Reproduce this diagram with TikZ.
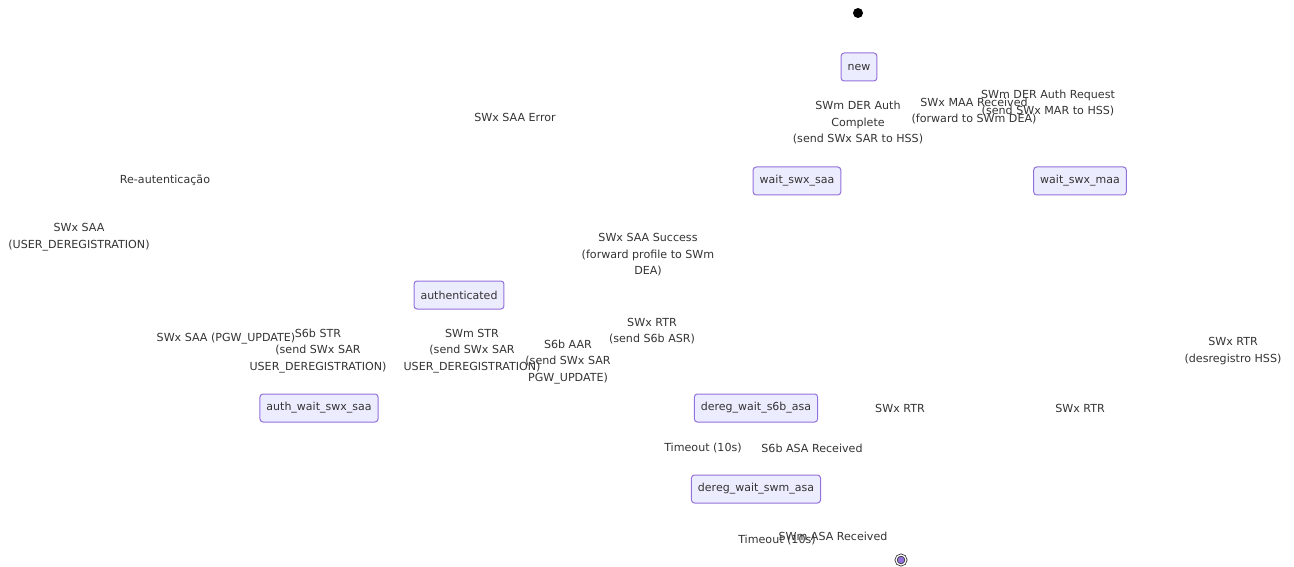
\documentclass[tikz,border=0pt]{standalone}
\usepackage{fontspec}
\setmainfont{DejaVu Sans}
\definecolor{stateFill}{HTML}{ECECFF}
\definecolor{stateLine}{HTML}{9370DB}
\definecolor{labelText}{HTML}{333333}
\begin{document}
\begin{tikzpicture}[x=1pt,y=-1pt]
	\tikzstyle{state_box} = [rectangle, rounded corners=3pt, draw=stateLine, line width=1pt, fill=stateFill, text=labelText, minimum height=28pt, inner xsep=6.5pt, font=\fontsize{11}{13}\selectfont]
	\tikzstyle{edge_label} = [align=center, text=labelText, inner sep=0pt, font=\fontsize{11.1}{16.5}\selectfont]
	\tikzstyle{start_dot} = [circle, fill=black, minimum size=10pt, inner sep=0pt]
	\tikzstyle{end_dot} = [circle, draw=labelText, line width=0.8pt, fill=stateLine, minimum size=10pt, inner sep=0pt, double=white, double distance=1.2pt]

	\useasboundingbox (0,0) rectangle (1294,567);

%------------------------------------------------------------
	\node[start_dot] (start) at (858,13) {};
	\node[state_box] (new) at (859,67) {new};

%------------------------------------------------------------

	\node[state_box] (wait_swx_saa) at (797,181) {wait\_swx\_saa};
	\node[state_box] (wait_swx_maa) at (1080,181) {wait\_swx\_maa};
	\node[state_box] (authenticated) at (459,295) {authenticated};

%------------------------------------------------------------

	\node[state_box] (auth_wait_swx_saa) at (319,408) {auth\_wait\_swx\_saa};
	\node[state_box] (dereg_wait_s6b_asa) at (756,408) {dereg\_wait\_s6b\_asa};
	\node[state_box] (dereg_wait_swm_asa) at (756,489) {dereg\_wait\_swm\_asa};
	\node[end_dot] (finish) at (901,560) {};

%------------------------------------------------------------

	\node[edge_label] (l_saa_error) at (515,117) {SWx SAA Error};
	\node[edge_label] (l_reauth) at (165,180) {Re-autenticação};
	\node[edge_label] (l_saa_dereg) at (79,237) {SWx SAA\\(USER\_DEREGISTRATION)};
	\node[edge_label] (l_der_complete) at (858,123) {SWm DER Auth\\Complete\\(send SWx SAR to HSS)};
	\node[edge_label] (l_maa) at (974,111) {SWx MAA Received\\(forward to SWm DEA)};
	\node[edge_label] (l_der_request) at (1048,103) {SWm DER Auth Request\\(send SWx MAR to HSS)};
	\node[edge_label] (l_saa_success) at (648,255) {SWx SAA Success\\(forward profile to SWm\\DEA)};

%------------------------------------------------------------

	\node[edge_label] (l_saa_pgw) at (226,339) {SWx SAA (PGW\_UPDATE)};
	\node[edge_label] (l_s6b_str) at (318,351) {S6b STR\\(send SWx SAR\\USER\_DEREGISTRATION)};
	\node[edge_label] (l_swm_str) at (472,351) {SWm STR\\(send SWx SAR\\USER\_DEREGISTRATION)};
	\node[edge_label] (l_s6b_aar) at (568,362) {S6b AAR\\(send SWx SAR\\PGW\_UPDATE)};
	\node[edge_label] (l_rtr_asr) at (652,331) {SWx RTR\\(send S6b ASR)};
	\node[edge_label] (l_rtr_hss) at (1233,351) {SWx RTR\\(desregistro HSS)};
	\node[edge_label] (l_rtr_a) at (900,408) {SWx RTR};
	\node[edge_label] (l_rtr_b) at (1080,408) {SWx RTR};

%------------------------------------------------------------

	\node[edge_label] (l_timeout_a) at (703,448) {Timeout (10s)};
	\node[edge_label] (l_s6b_asa) at (812,448) {S6b ASA Received};
	\node[edge_label] (l_timeout_b) at (777,540) {Timeout (10s)};
	\node[edge_label] (l_swm_asa) at (833,536) {SWm ASA Received};

\end{tikzpicture}
\end{document}
